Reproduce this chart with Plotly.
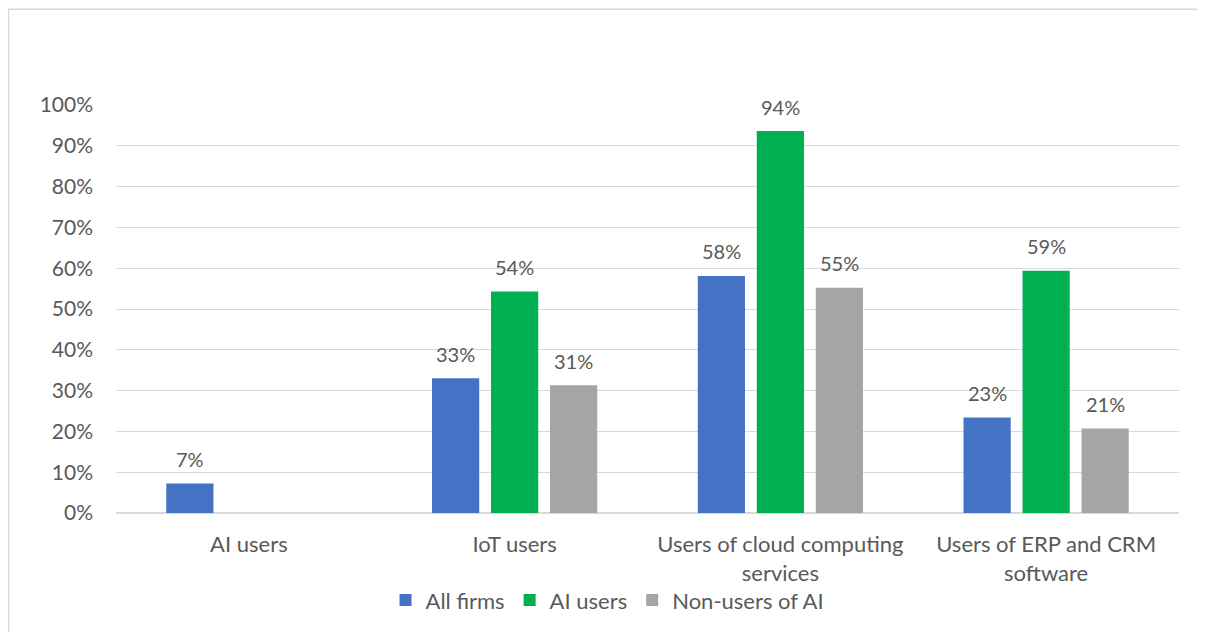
import plotly.graph_objects as go

categories = ["AI users", "IoT users", "Users of cloud computing<br>services", "Users of ERP and CRM<br>software"]
all_firms = [0.072, 0.330, 0.581, 0.234]
ai_users = [None, 0.543, 0.936, 0.594]
non_users = [None, 0.313, 0.552, 0.207]
y_ticks = [i / 10 for i in range(11)]

FONT = "Lato, Open Sans, sans-serif"
TXT = "#595959"

series = [("All firms", all_firms, "#4472C4"),
          ("AI users", ai_users, "#00B050"),
          ("Non-users of AI", non_users, "#A5A5A5")]

fig = go.Figure()
for name, vals, col in series:
    fig.add_trace(go.Bar(x=categories, y=vals, name=name, marker_color=col,
                         marker_line_width=0))

# data labels placed above each bar (offset of each bar within its group)
slot = 1063 / len(categories) * (1 - 0.334) / len(series)
annotations = []
for i, (name, vals, col) in enumerate(series):
    for cat, v in zip(categories, vals):
        if v is None:
            continue
        annotations.append(dict(x=cat, y=v, xref="x", yref="y", text=f"{v:.0%}",
                                showarrow=False, xanchor="center", yanchor="middle",
                                xshift=(i - 1) * slot, yshift=24.5,
                                font=dict(size=20, color=TXT, family=FONT)))

fig.update_layout(
    width=1197, height=624,
    paper_bgcolor="white", plot_bgcolor="white",
    margin=dict(l=108, r=26, t=97, b=118),
    barmode="group", bargap=0.334, bargroupgap=0.2,
    font=dict(family=FONT, size=21, color=TXT),
    showlegend=True,
    legend=dict(orientation="h", x=0.4624, xanchor="center", y=-0.211, yanchor="middle",
                font=dict(size=22, color=TXT), itemwidth=30, traceorder="normal",
                bgcolor="rgba(0,0,0,0)"),
    annotations=annotations,
    shapes=[dict(type="rect", xref="paper", yref="paper",
                 x0=-0.1011, x1=1.05, y0=-0.4, y1=1.2347,
                 line=dict(color="#D9D9D9", width=1.5), fillcolor="rgba(0,0,0,0)", layer="below")],
)
fig.update_yaxes(range=[0, 1.0], tickvals=y_ticks, tickformat=".0%", showgrid=True,
                 gridcolor="#D9D9D9", gridwidth=1, zeroline=True, zerolinecolor="#D9D9D9",
                 zerolinewidth=1.5, showline=False, ticks="", ticklabelstandoff=22,
                 tickfont=dict(size=21, color=TXT))
fig.update_xaxes(showline=False, ticks="", ticklabelstandoff=16,
                 tickfont=dict(size=22, color=TXT))

fig.write_html("out.html")
